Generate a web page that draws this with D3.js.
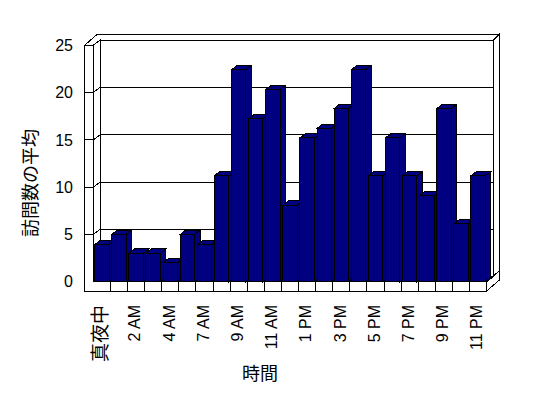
<!DOCTYPE html>
<html>
<head>
<meta charset="utf-8">
<script src="https://cdn.jsdelivr.net/npm/d3@7/dist/d3.min.js"></script>
<style>
  body { margin: 0; background: #fff; }
  svg { display: block; }
</style>
</head>
<body>
<svg id="chart" width="548" height="398"></svg>
<script>
// hours of the day (5 AM has no data in the source sheet)
const hours = ["真夜中", "1 AM", "2 AM", "3 AM", "4 AM", "6 AM", "7 AM", "8 AM", "9 AM", "10 AM", "11 AM", "正午",
  "1 PM", "2 PM", "3 PM", "4 PM", "5 PM", "6 PM", "7 PM", "8 PM", "9 PM", "10 PM", "11 PM"];
const visits = [3.9, 5.0, 3.0, 3.0, 2.0, 5.0, 3.9, 11.2, 22.4, 17.2, 20.3, 8.1,
  15.2, 16.2, 18.3, 22.4, 11.2, 15.2, 11.2, 9.1, 18.3, 6.1, 11.2];
const valueTicks = [0, 5, 10, 15, 20, 25];
const hourLabels = hours.filter((d, i) => i % 2 === 0);

const svg = d3.select("#chart");

// front plane of the 3d box
const x = d3.scaleBand().domain(hours).range([93.3, 486.7]).paddingInner(0.16).paddingOuter(0.08);
const y = d3.scaleLinear().domain([0, 25]).range([281.7, 45.2]);

const depth = [6.7, -5];     // front -> back wall
const wallT = [6, -6];       // wall thickness
const barD = [5.6, -4.4];    // bar depth
const outerX = 84.7;
const floorH = 9.3;

const xL = x.range()[0], xR = x.range()[1];
const y0 = y(0), y25 = y(25);
const back = (px, py) => [px + depth[0], py + depth[1]];
const pts = arr => arr.map(p => p.join(",")).join(" ");

const box = svg.append("g")
  .attr("fill", "#fff").attr("stroke", "#000").attr("stroke-width", 1)
  .attr("shape-rendering", "crispEdges");

// back wall inner face
box.append("rect")
  .attr("x", xL + depth[0]).attr("y", y25 + depth[1])
  .attr("width", xR - xL).attr("height", y0 - y25);

// right end of back wall
box.append("polygon").attr("points", pts([
  back(xR, y25), [xR + depth[0] + wallT[0], y25 + depth[1] + wallT[1]],
  [xR + depth[0] + wallT[0], y0 + depth[1] + wallT[1]], back(xR, y0)
]));

// right end of floor
box.append("polygon").attr("points", pts([
  [xR, y0], [xR + depth[0] + wallT[0], y0 + depth[1] + wallT[1]],
  [xR + depth[0] + wallT[0], y0 + depth[1] + wallT[1] + floorH], [xR, y0 + floorH]
]));

// floor top
box.append("polygon").attr("points", pts([[xL, y0], [xR, y0], back(xR, y0), back(xL, y0)]));

// top edge of left + back wall
box.append("polygon").attr("points", pts([
  [outerX, y25], [outerX + depth[0] + wallT[0], y25 + depth[1] + wallT[1]],
  [xR + depth[0] + wallT[0], y25 + depth[1] + wallT[1]], back(xR, y25),
  back(xL, y25), [xL, y25]
]));

// left wall inner face
box.append("polygon").attr("points", pts([[xL, y25], back(xL, y25), back(xL, y0), [xL, y0]]));

// left wall front + floor front
box.append("polygon").attr("points", pts([
  [outerX, y25], [xL, y25], [xL, y0], [xR, y0], [xR, y0 + floorH], [outerX, y0 + floorH]
]));

// gridlines
box.selectAll(".grid").data(valueTicks.filter(v => v > 0 && v < 25)).enter()
  .append("polyline")
  .attr("fill", "none")
  .attr("points", v => pts([[outerX, y(v)], [xL, y(v)], back(xL, y(v)), back(xR, y(v))]));

// category dividers on floor front
box.selectAll(".div").data(hours.slice(1)).enter()
  .append("line")
  .attr("x1", d => x(d) - x.step() * x.paddingInner() / 2)
  .attr("x2", d => x(d) - x.step() * x.paddingInner() / 2)
  .attr("y1", y0).attr("y2", y0 + floorH);

// bars
const bars = svg.append("g")
  .attr("fill", "#000080").attr("stroke", "#000").attr("stroke-width", 1)
  .attr("shape-rendering", "crispEdges");

hours.forEach((h, i) => {
  const bx = x(h), bw = x.bandwidth(), top = y(visits[i]);
  bars.append("polygon").attr("points", pts([
    [bx + bw, top], [bx + bw + barD[0], top + barD[1]], [bx + bw + barD[0], y0 + barD[1]], [bx + bw, y0]
  ]));
  bars.append("polygon").attr("points", pts([
    [bx, top], [bx + bw, top], [bx + bw + barD[0], top + barD[1]], [bx + barD[0], top + barD[1]]
  ]));
  bars.append("rect").attr("x", bx).attr("y", top).attr("width", bw).attr("height", y0 - top);
});

// value labels
svg.append("g").selectAll("text").data(valueTicks).enter()
  .append("text")
  .attr("x", 73).attr("y", d => y(d)).attr("dy", "0.36em")
  .attr("text-anchor", "end")
  .style("font", "16px 'Liberation Sans', Arial, sans-serif")
  .text(d => d);

// category labels
const xAxis = svg.append("g")
  .attr("transform", "translate(-1.5,305)")
  .call(d3.axisBottom(x).tickValues(hourLabels).tickSize(0));
xAxis.select(".domain").remove();
xAxis.selectAll("text")
  .attr("transform", "rotate(-90)")
  .attr("x", 0).attr("y", 0).attr("dy", "0.36em")
  .attr("text-anchor", "end")
  .attr("fill", "#000")
  .style("font", "16px 'Liberation Sans', 'Noto Sans CJK JP', sans-serif");
xAxis.selectAll("text").filter(d => d === "真夜中")
  .style("font", "19px 'Noto Sans CJK JP', sans-serif");

// axis titles
svg.append("text")
  .attr("transform", "translate(31,183) rotate(-90)")
  .attr("text-anchor", "middle").attr("dy", "0.36em")
  .style("font", "18px 'Noto Sans CJK JP', sans-serif")
  .text("訪問数の平均");

svg.append("text")
  .attr("x", 260).attr("y", 374).attr("dy", "0.36em")
  .attr("text-anchor", "middle")
  .style("font", "18px 'Noto Sans CJK JP', sans-serif")
  .text("時間");
</script>
</body>
</html>
